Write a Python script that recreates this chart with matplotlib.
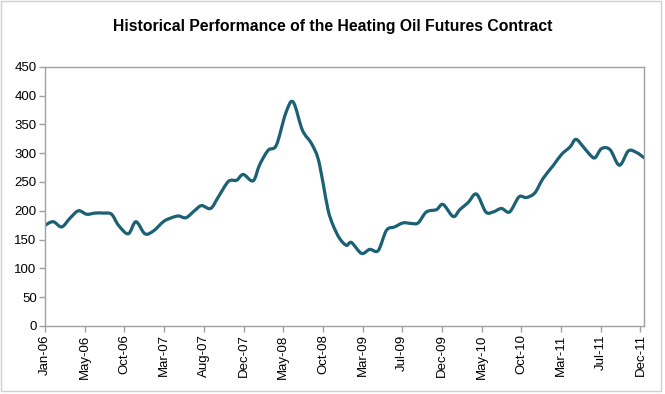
import numpy as np
import matplotlib
matplotlib.use("Agg")
import matplotlib.pyplot as plt
from matplotlib.path import Path
from matplotlib.patches import PathPatch, Rectangle

plt.rcParams['font.family'] = ['Liberation Sans', 'DejaVu Sans']

title = "Historical Performance of the Heating Oil Futures Contract"

dates = ["2006-01-01", "2006-01-31", "2006-03-03", "2006-04-02", "2006-05-03", "2006-06-02",
         "2006-07-03", "2006-08-02", "2006-09-01", "2006-09-26", "2006-11-01", "2006-11-29",
         "2007-01-01", "2007-02-01", "2007-03-09", "2007-04-03", "2007-05-03", "2007-05-31",
         "2007-07-03", "2007-07-27", "2007-08-29", "2007-09-26", "2007-11-02", "2007-12-02",
         "2007-12-26", "2008-01-31", "2008-02-24", "2008-03-26", "2008-04-25", "2008-05-29",
         "2008-06-25", "2008-07-29", "2008-08-31", "2008-09-24", "2008-10-13", "2008-10-31",
         "2008-11-18", "2008-12-12", "2009-01-06", "2009-01-24", "2009-03-02", "2009-04-01",
         "2009-05-02", "2009-06-01", "2009-07-01", "2009-08-01", "2009-08-31", "2009-09-25",
         "2009-10-25", "2009-12-01", "2009-12-25", "2010-01-31", "2010-02-24", "2010-03-26",
         "2010-04-26", "2010-05-30", "2010-06-26", "2010-07-26", "2010-08-25", "2010-09-28",
         "2010-10-25", "2010-11-25", "2010-12-25", "2011-02-01", "2011-03-03", "2011-04-03",
         "2011-04-24", "2011-05-21", "2011-06-15", "2011-07-03", "2011-07-27", "2011-08-27",
         "2011-09-30", "2011-11-02", "2011-12-02", "2011-12-29"]
prices = [175, 181, 172, 187, 200, 194,
          196, 196, 194, 175, 160, 181,
          160, 165, 181, 187, 191, 188,
          201, 209, 204, 224, 251, 253,
          263, 252, 280, 305, 314, 369,
          389, 340, 317, 291, 247, 201,
          175, 152, 140, 145, 126, 133,
          131, 166, 172, 179, 178, 179,
          198, 202, 211, 190, 202, 214,
          229, 198, 198, 204, 198, 224,
          223, 231, 256, 279, 298, 311,
          324, 311, 297, 292, 308, 306,
          279, 304, 301, 292]

yticks = [0, 50, 100, 150, 200, 250, 300, 350, 400, 450]
tick_step_days = 145
n_xticks = 16

origin = np.datetime64("2006-01-01")
x = (np.array(dates, dtype="datetime64[D]") - origin).astype(float)
y = np.array(prices, dtype=float)

fig = plt.figure(figsize=(6.65, 3.94), dpi=100)
fig.patch.set_facecolor("white")
fig.patches.append(Rectangle((0.002, 0.007), 0.992, 0.99, transform=fig.transFigure,
                             fill=False, edgecolor="#d0d0d0", linewidth=1.0))
ax = fig.add_axes([0.0677, 0.1726, 0.9008, 0.658])

# smoothed line (Catmull-Rom -> cubic Bezier)
pts = np.column_stack([x, y])
verts = [pts[0]]
codes = [Path.MOVETO]
n = len(pts)
for i in range(n - 1):
    p0 = pts[i - 1] if i > 0 else pts[i]
    p1 = pts[i]
    p2 = pts[i + 1]
    p3 = pts[i + 2] if i + 2 < n else pts[i + 1]
    c1 = p1 + (p2 - p0) / 6.0
    c2 = p2 - (p3 - p1) / 6.0
    verts += [c1, c2, p2]
    codes += [Path.CURVE4] * 3
ax.add_patch(PathPatch(Path(verts, codes), facecolor="none", edgecolor="#1b6173",
                       linewidth=2.3, capstyle="round", joinstyle="round"))

ax.set_xlim(0, x[-1])
ax.set_ylim(0, 450)
ax.set_yticks(yticks)
ax.set_yticklabels([str(v) for v in yticks], fontsize=9.5)

xt = np.arange(n_xticks) * tick_step_days
xt_dates = origin + xt.astype("timedelta64[D]")
labels = []
for d in xt_dates:
    dt = d.astype(object)
    labels.append(dt.strftime("%b-%y"))
ax.set_xticks(xt)
ax.set_xticklabels(labels, rotation=90, fontsize=9.5)

for s in ax.spines.values():
    s.set_color("#a0a0a0")
    s.set_linewidth(1.0)
ax.tick_params(axis="both", direction="out", length=4, color="#a0a0a0", width=1,
               labelcolor="black", pad=2)

fig.text(0.5, 0.932, title, ha="center", va="center", fontsize=11.3, fontweight="bold")

fig.savefig("out.png", dpi=100, facecolor="white")
